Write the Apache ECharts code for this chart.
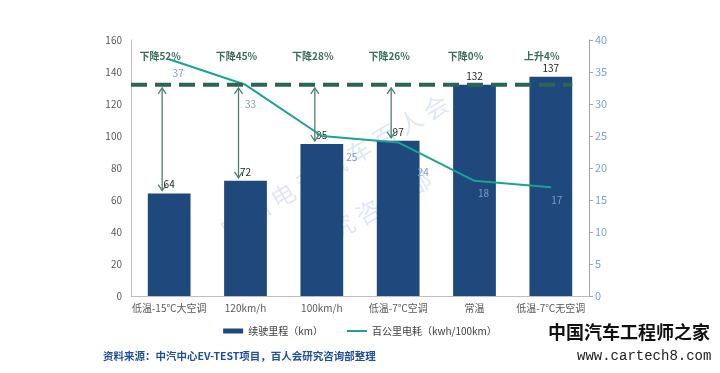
<!DOCTYPE html>
<html><head><meta charset="utf-8">
<script src="https://cdn.jsdelivr.net/npm/echarts@6/dist/echarts.min.js"></script>
<style>html,body{margin:0;padding:0;background:#fff;}#c{width:720px;height:373px;}</style>
</head><body><div id="c"></div>
<script>
const categories = ['低温-15℃大空调', '120km/h', '100km/h', '低温-7℃空调', '常温', '低温-7℃无空调'];
const rangeKm = [64, 72, 95, 97, 132, 137];
const consumption = [37, 33, 25, 24, 18, 17];
const changeLabels = ['下降52%', '下降45%', '下降28%', '下降26%', '下降0%', '上升4%'];
const baselineKm = 132;
const arrowTargets = [64, 72, 95, 97];
const leftTicks = {min: 0, max: 160, interval: 20};
const rightTicks = {min: 0, max: 40, interval: 5};

const lineLabelOffsets = [[9, 14], [5, 19], [30, 21], [25, 30], [9, 12], [6, 13]];
const chart = echarts.init(document.getElementById('c'), null, {renderer: 'canvas'});
const FONT = '"Noto Sans CJK SC", "Noto Sans", sans-serif';
const ARROW_COLOR = '#4f7d72';
const X_SHIFT = -7;

function arrowHead(x, y, dir) {
  return {type: 'polyline', shape: {points: [[x - 4, y - dir * 6], [x, y], [x + 4, y - dir * 6]]},
    style: {stroke: ARROW_COLOR, lineWidth: 1.3, fill: null}};
}

const option = {
  backgroundColor: '#fff',
  animation: false,
  textStyle: {fontFamily: FONT},
  grid: {left: 131, right: 131, top: 40, bottom: 77},
  legend: {
    data: [
      {name: '续驶里程（km）', icon: 'rect'},
      {name: '百公里电耗（kwh/100km）', icon: 'path://M0,0H40V4H0Z'}
    ],
    top: 321, left: 'center', itemGap: 24,
    itemWidth: 20, itemHeight: 5,
    textStyle: {fontSize: 10, color: '#404040', fontFamily: FONT}
  },
  xAxis: {
    type: 'category', data: categories,
    axisLine: {lineStyle: {color: '#bfbfbf', width: 1}},
    axisTick: {show: false},
    axisLabel: {fontSize: 10, color: '#595959', margin: 7, interval: 0}
  },
  yAxis: [
    {type: 'value', min: leftTicks.min, max: leftTicks.max, interval: leftTicks.interval,
     splitLine: {show: false}, axisLine: {show: true, lineStyle: {color: '#bfbfbf'}}, axisTick: {show: false},
     axisLabel: {fontSize: 10, color: '#595959', margin: 9}},
    {type: 'value', min: rightTicks.min, max: rightTicks.max, interval: rightTicks.interval,
     splitLine: {show: false}, axisLine: {show: true, lineStyle: {color: '#a6a6a6'}},
     axisTick: {show: true, length: 4, lineStyle: {color: '#a6a6a6'}},
     axisLabel: {fontSize: 11, color: '#7aa3dc', margin: 6}}
  ],
  graphic: [
    {type: 'text', left: 103, top: 351, style: {text: '资料来源：中汽中心EV-TEST项目，百人会研究咨询部整理', fill: '#1f4f9a', font: 'bold 10.5px ' + FONT}},
    {type: 'text', left: 548, top: 323, style: {text: '中国汽车工程师之家', fill: '#111', font: 'bold 18px ' + FONT}},
    {type: 'text', left: 577, top: 349, style: {text: 'www.cartech8.com', fill: '#222', font: '14px "Liberation Mono", "DejaVu Sans Mono", monospace'}},
    {type: 'text', x: 334, y: 166, rotation: Math.PI / 6, z: -1, style: {text: '中 国 电 动 汽 车 百 人 会', fill: 'rgba(160,190,225,0.35)', font: '24px ' + FONT, textAlign: 'center', textVerticalAlign: 'middle'}},
    {type: 'text', x: 368, y: 212, rotation: Math.PI / 6, z: -1, style: {text: '研 究 咨 询 部', fill: 'rgba(160,190,225,0.35)', font: '24px ' + FONT, textAlign: 'center', textVerticalAlign: 'middle'}}
  ],
  series: [
    {
      name: '续驶里程（km）', type: 'bar', data: rangeKm, barWidth: '56%', z: 2,
      itemStyle: {color: '#1f497d'},
      label: {show: true, position: 'top', distance: 4, fontSize: 10, color: '#262626'}
    },
    {
      name: '百公里电耗（kwh/100km）', type: 'line', yAxisIndex: 1, z: 4,
      data: consumption.map((v, i) => ({value: v, label: {offset: lineLabelOffsets[i]}})),
      symbol: 'circle', symbolSize: 1, showSymbol: true,
      itemStyle: {color: '#1aa394'},
      lineStyle: {color: '#1aa394', width: 2},
      label: {show: true, position: 'inside', fontSize: 10, color: '#7b9bd3'}
    },
    {
      type: 'custom', z: 5, silent: true,
      data: [[0, baselineKm]],
      renderItem: function (params, api) {
        const band = api.size([1, 0])[0];
        const left = api.coord([0, api.value(1)]);
        const right = api.coord([categories.length - 1, api.value(1)]);
        return {type: 'line', shape: {x1: left[0] - band / 2, y1: left[1], x2: right[0] + band * 0.28, y2: right[1]},
          style: {stroke: '#2e6456', lineWidth: 4, lineDash: [16, 8]}};
      }
    },
    {
      type: 'custom', z: 6, silent: true,
      data: arrowTargets.map((v, i) => [i, v]),
      renderItem: function (params, api) {
        const bottom = api.coord([api.value(0), api.value(1)]);
        const top = api.coord([api.value(0), baselineKm]);
        const x = bottom[0] + X_SHIFT;
        const y1 = top[1] + 3, y2 = bottom[1] - 3;
        return {type: 'group', children: [
          {type: 'line', shape: {x1: x, y1: y1, x2: x, y2: y2}, style: {stroke: ARROW_COLOR, lineWidth: 1.3}},
          arrowHead(x, y1, -1), arrowHead(x, y2, 1)
        ]};
      }
    },
    {
      type: 'custom', z: 6, silent: true,
      data: changeLabels.map((t, i) => [i, 150]),
      renderItem: function (params, api) {
        const p = api.coord([api.value(0), api.value(1)]);
        return {type: 'text', x: p[0] - 9, y: p[1], style: {text: changeLabels[params.dataIndex], fill: '#3a6b5c',
          font: 'bold 10px ' + FONT, textAlign: 'center', textVerticalAlign: 'middle'}};
      }
    }
  ]
};
chart.setOption(option);
</script></body></html>
